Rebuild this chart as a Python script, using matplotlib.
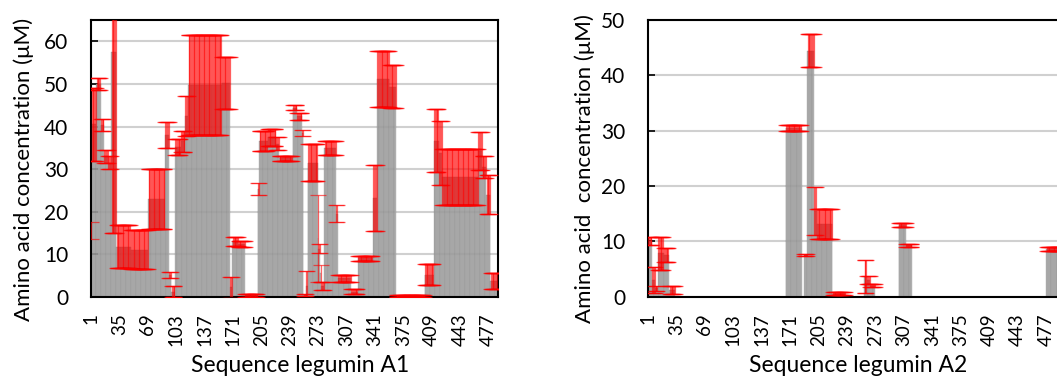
import numpy as np
import matplotlib.pyplot as plt

plt.rcParams['font.family'] = ['Lato', 'DejaVu Sans']

# legumin A1: runs of residues (first, last, mean, error)
a1_first = [1, 2, 8, 13, 17, 22, 26, 32, 49, 70, 90, 95, 98, 102, 109, 114, 118, 158, 168,
            171, 178, 186, 201, 203, 213, 223, 227, 243, 248, 254, 256, 259, 261, 273, 274,
            276, 277, 281, 295, 297, 313, 321, 339, 344, 359, 367, 401, 412, 418, 422, 465,
            470, 475, 480]
a1_last = [1, 7, 12, 16, 21, 25, 31, 48, 69, 89, 94, 97, 101, 108, 113, 117, 157, 167, 170,
           177, 185, 200, 202, 212, 222, 226, 242, 247, 253, 255, 258, 260, 272, 273, 275,
           276, 280, 294, 296, 312, 320, 338, 343, 358, 366, 400, 411, 417, 421, 464, 469,
           474, 479, 488]
a1_mean = [15.5, 40.5, 50.0, 40.4, 33.0, 31.5, 57.5, 11.8, 11.0, 22.9, 38.0, 5.1, 1.2, 35.2,
           36.5, 42.5, 49.7, 50.2, 2.2, 13.0, 12.5, 0.3, 25.3, 36.6, 37.5, 36.0, 32.5, 44.4,
           42.4, 38.5, 0.4, 2.5, 31.5, 13.7, 11.3, 5.5, 2.5, 35.0, 19.5, 4.3, 1.2, 9.0, 23.2,
           51.2, 49.4, 0.2, 5.2, 36.7, 33.8, 28.2, 34.3, 30.5, 24.0, 3.7]
a1_err = [2.0, 8.5, 1.5, 1.4, 1.5, 1.5, 42.5, 5.0, 4.6, 7.1, 3.0, 0.8, 1.3, 1.8, 2.5, 4.7,
          11.8, 6.1, 2.4, 1.0, 0.7, 0.3, 1.4, 2.4, 2.0, 1.5, 0.6, 0.6, 0.8, 0.8, 0.3, 3.5,
          4.3, 10.2, 1.0, 2.0, 1.0, 1.7, 2.0, 0.9, 0.5, 0.6, 7.8, 6.6, 5.1, 0.2, 2.5, 7.4,
          7.5, 6.6, 4.5, 2.5, 4.6, 1.8]

# legumin A2
a2_first = [1, 6, 10, 13, 20, 27, 166, 188, 192, 200, 203, 222, 260, 263, 267, 301, 310, 478]
a2_last = [5, 9, 12, 19, 25, 33, 184, 191, 199, 202, 221, 236, 262, 266, 272, 309, 316, 495]
a2_mean = [10.0, 3.0, 1.5, 7.8, 7.5, 1.2, 30.5, 7.5, 44.5, 15.5, 13.2, 0.5, 3.6, 3.0, 2.0,
           12.9, 9.3, 8.6]
a2_err = [0.7, 2.3, 0.5, 3.0, 1.2, 0.7, 0.6, 0.2, 3.0, 4.4, 2.7, 0.3, 3.0, 0.8, 0.3, 0.4,
          0.3, 0.4]

n1, n2 = 488, 500
ticks = list(range(1, 478, 34))


def expand(first, last, mean, err, n):
    val = np.zeros(n)
    e = np.zeros(n)
    for f, l, m, s in zip(first, last, mean, err):
        val[f - 1:l] = m
        e[f - 1:l] = s
    return val, e


def panel(ax, val, e, n, ymax, xlabel, ylabel):
    x = np.arange(1, n + 1)
    ax.bar(x, val, width=1.0, color='#bababa', edgecolor='#6a6a6a', linewidth=0.2,
           alpha=0.8, zorder=2)
    m = e > 0
    ax.errorbar(x[m], val[m], yerr=e[m], fmt='none', ecolor='#ff0000', elinewidth=0.9,
                capsize=6, capthick=0.9, alpha=0.6, zorder=3)
    ax.set_xlim(0.5, n + 0.5)
    ax.set_ylim(0, ymax)
    ax.set_yticks(range(0, ymax + 1, 10))
    ax.set_xticks(ticks)
    ax.set_xticklabels([str(t) for t in ticks], rotation=90)
    ax.tick_params(axis='y', direction='in', length=5, width=1.2, labelsize=15, pad=16)
    ax.tick_params(axis='x', length=0, labelsize=13.5, pad=12)
    ax.yaxis.grid(True, color='#d0d0d0', linewidth=1.5, zorder=1)
    ax.set_axisbelow(True)
    for s in ax.spines.values():
        s.set_linewidth(1.5)
    ax.set_xlabel(xlabel, fontsize=16.5)
    ax.set_ylabel(ylabel, fontsize=16)


fig = plt.figure(figsize=(10.57, 3.8), dpi=100)
W, H = 1057, 380
ax1 = fig.add_axes([90.5 / W, (H - 296.7) / H, 407.5 / W, 276.5 / H])
ax2 = fig.add_axes([647.7 / W, (H - 296.6) / H, n2 * 0.836 / W, 276.5 / H])

v1, e1 = expand(a1_first, a1_last, a1_mean, a1_err, n1)
v2, e2 = expand(a2_first, a2_last, a2_mean, a2_err, n2)
panel(ax1, v1, e1, n1, 65, 'Sequence legumin A1', 'Amino acid concentration (\u03bcM)')
ax1.set_yticks(range(0, 61, 10))
panel(ax2, v2, e2, n2, 50, 'Sequence legumin A2', 'Amino acid  concentration (\u03bcM)')

# label placement in axes coordinates
ax1.xaxis.set_label_coords(0.514, -0.212)
ax1.yaxis.set_label_coords(-0.139, 0.462)
ax2.xaxis.set_label_coords(0.503, -0.212)
ax2.yaxis.set_label_coords(-0.126, 0.462)

fig.savefig('out.png', dpi=100)
